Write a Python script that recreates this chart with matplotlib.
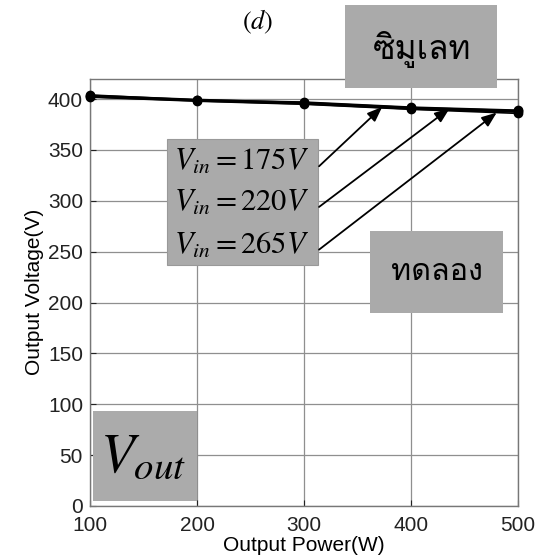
import numpy as np
import matplotlib
matplotlib.use("Agg")
import matplotlib.pyplot as plt
from matplotlib import font_manager
from matplotlib.ft2font import FT2Font
from matplotlib.patches import Rectangle

# Output power (W) and output voltage (V) for three input voltages
power = [100, 200, 300, 400, 500]
vout_175 = [403, 399, 396, 391, 388]
vout_220 = [404, 399, 397, 392, 389]
vout_265 = [402, 398, 395, 390, 386]
series_labels = [r"$V_{in}=175V$", r"$V_{in}=220V$", r"$V_{in}=265V$"]
arrow_tip_power = [373, 436, 480]
x_ticks = [100, 200, 300, 400, 500]
y_ticks = [0, 50, 100, 150, 200, 250, 300, 350, 400]
sim_label = "ซิมูเลท"
exp_label = "ทดลอง"


def thai_font():
    for f in font_manager.fontManager.ttflist:
        try:
            cmap = FT2Font(f.fname).get_charmap()
        except Exception:
            continue
        if ord("ท") in cmap and ord("ซ") in cmap:
            return f.name
    return "DejaVu Sans"


thai = thai_font()
plt.rcParams["mathtext.fontset"] = "stix"
plt.rcParams["font.family"] = ["Liberation Sans", "DejaVu Sans"]

fig = plt.figure(figsize=(5.42, 5.59), dpi=100)
ax = fig.add_axes([0.166, 0.095, 0.790, 0.764])

ax.set_xlim(100, 500)
ax.set_ylim(0, 420)
ax.set_xticks(x_ticks)
ax.set_yticks(y_ticks)
ax.grid(True, color="#8f8f8f", linewidth=0.9)
ax.set_axisbelow(True)
ax.tick_params(direction="in", length=4, labelsize=15, colors="#222222")
ax.tick_params(axis="x", pad=7)
ax.tick_params(axis="y", pad=5)
for s in ax.spines.values():
    s.set_color("#777777")
    s.set_linewidth(1.0)
ax.set_xlabel("Output Power(W)", fontsize=15, labelpad=1)
ax.set_ylabel("Output Voltage(V)", fontsize=15, labelpad=3)

all_series = [vout_175, vout_220, vout_265]
widths = [2.2, 1.4, 1.2]
for vals, lw in zip(all_series, widths):
    ax.plot(power, vals, color="black", linewidth=lw, marker="o",
            markersize=6, clip_on=False, zorder=3)

box_kw = dict(facecolor="#aaaaaa", edgecolor="#999999", linewidth=0.8,
              zorder=4, clip_on=False)

# legend box with input-voltage labels
ax.add_patch(Rectangle((172, 237), 141, 124, transform=ax.transData, **box_kw))
label_y = [338, 298, 256]
for txt, ly in zip(series_labels, label_y):
    ax.text(242, ly, txt, ha="center", va="center", fontsize=22, zorder=5)

# arrows from labels to the curves
for tip_x, vals, ly in zip(arrow_tip_power, all_series, label_y):
    tip_y = np.interp(tip_x, power, vals)
    ax.annotate("", xy=(tip_x, tip_y), xytext=(314, ly - 4),
                arrowprops=dict(arrowstyle="-|>,head_length=0.9,head_width=0.35",
                                color="black", lw=1.3, shrinkA=0, shrinkB=0),
                zorder=6, annotation_clip=False)

# simulation / experiment tags
fig.patches.append(Rectangle((345 / 542, 1 - 88 / 559), 152 / 542, 83 / 559,
                             transform=fig.transFigure, facecolor="#aaaaaa",
                             edgecolor="none", zorder=4))
fig.text(422 / 542, 1 - 50 / 559, sim_label, ha="center", va="center",
         fontsize=24, family=[thai, "DejaVu Sans"], zorder=5)

ax.add_patch(Rectangle((362, 190), 124, 80, transform=ax.transData,
                       facecolor="#aaaaaa", edgecolor="none", zorder=4))
ax.text(424, 230, exp_label, ha="center", va="center", fontsize=22,
        family=[thai, "DejaVu Sans"], zorder=5)

# V_out tag
ax.add_patch(Rectangle((103, 5), 97, 88, transform=ax.transData,
                       facecolor="#ababab", edgecolor="none", zorder=4))
ax.text(150, 48, r"$V_{out}$", ha="center", va="center", fontsize=40, zorder=5)

fig.text(258 / 542, 1 - 22 / 559, r"$(d)$", ha="center", va="center",
         fontsize=19)

fig.savefig("out.png", dpi=100)
